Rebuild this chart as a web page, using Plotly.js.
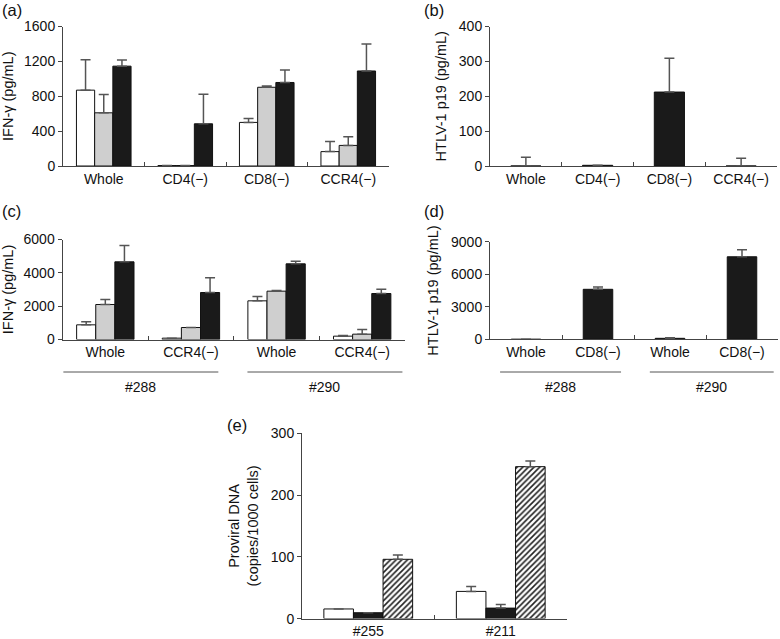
<!DOCTYPE html>
<html>
<head>
<meta charset="utf-8">
<script src="https://cdn.plot.ly/plotly-3.0.1.min.js"></script>
<style>html,body{margin:0;padding:0;background:#fff;}#chart{width:780px;height:639px;}</style>
</head>
<body>
<div id="chart"></div>
<script>
// ---------- data ----------
// Panel (a)
var aCategories = ["Whole", "CD4(\u2212)", "CD8(\u2212)", "CCR4(\u2212)"];
var aWhite = [870, 5, 500, 165];
var aWhiteErr = [350, 0, 45, 115];
var aGray = [610, 5, 903, 236];
var aGrayErr = [210, 0, 15, 100];
var aBlack = [1145, 484, 958, 1090];
var aBlackErr = [70, 340, 143, 310];

// Panel (b)
var bCategories = ["Whole", "CD4(\u2212)", "CD8(\u2212)", "CCR4(\u2212)"];
var bBlack = [0, 2, 212, 0];
var bBlackErr = [25, 0, 97, 22];

// Panel (c)  (zero-width space keeps repeated labels distinct)
var cCategories = ["Whole", "CCR4(\u2212)", "Whole\u200b", "CCR4(\u2212)\u200b"];
var cWhite = [880, 80, 2320, 200];
var cWhiteErr = [180, 0, 260, 40];
var cGray = [2100, 720, 2900, 320];
var cGrayErr = [300, 0, 40, 280];
var cBlack = [4660, 2820, 4540, 2760];
var cBlackErr = [980, 880, 160, 260];
var cGroups = ["#288", "#290"];

// Panel (d)
var dCategories = ["Whole", "CD8(\u2212)", "Whole\u200b", "CD8(\u2212)\u200b"];
var dBlack = [0, 4610, 90, 7610];
var dBlackErr = [0, 210, 60, 650];
var dGroups = ["#288", "#290"];

// Panel (e)
var eCategories = ["#255", "#211"];
var eWhite = [15.6, 44];
var eWhiteErr = [0, 8];
var eBlack = [9.5, 17];
var eBlackErr = [0, 6];
var eHatched = [96, 246];
var eHatchedErr = [7, 9];

// ---------- helpers ----------
var FONT = "Liberation Sans, Arial, Helvetica, sans-serif";
var ERRCOL = "#555";
function zeros(n){ var z=[]; for(var i=0;i<n;i++) z.push(0); return z; }
function bar(x, y, err, xa, ya, fill, extra){
  var t = {
    type: "bar", x: x, y: y, xaxis: xa, yaxis: ya,
    marker: {color: fill, line: {color: "#111", width: 1}},
    error_y: {type: "data", symmetric: false, array: err, arrayminus: zeros(err.length),
              color: ERRCOL, thickness: 1.5, width: 5},
    showlegend: false, hoverinfo: "x+y"
  };
  if (extra) for (var k in extra) t[k] = extra[k];
  return t;
}
var WHITE = "#ffffff", GRAY = "#cfcfcf", BLACK = "#1a1a1a";

var traces = [
  bar(aCategories, aWhite, aWhiteErr, "x", "y", WHITE),
  bar(aCategories, aGray, aGrayErr, "x", "y", GRAY),
  bar(aCategories, aBlack, aBlackErr, "x", "y", BLACK),

  bar(bCategories, bBlack, bBlackErr, "x2", "y2", BLACK, {width: 0.42}),

  bar(cCategories, cWhite, cWhiteErr, "x3", "y3", WHITE),
  bar(cCategories, cGray, cGrayErr, "x3", "y3", GRAY),
  bar(cCategories, cBlack, cBlackErr, "x3", "y3", BLACK),

  bar(dCategories, dBlack, dBlackErr, "x4", "y4", BLACK, {width: 0.41}),

  bar(eCategories, eWhite, eWhiteErr, "x5", "y5", WHITE),
  bar(eCategories, eBlack, eBlackErr, "x5", "y5", BLACK),
  bar(eCategories, eHatched, eHatchedErr, "x5", "y5", WHITE)
];
traces[10].marker.pattern = {shape: "/", fgcolor: "#222", bgcolor: "#ffffff", size: 4, solidity: 0.4, fillmode: "replace"};

function xax(domain, anchor){
  return {
    domain: domain, anchor: anchor, type: "category", tickson: "boundaries",
    ticks: "inside", ticklen: 4, tickwidth: 1, tickcolor: "#444",
    showline: true, linecolor: "#444", linewidth: 1,
    showgrid: false, zeroline: false, fixedrange: true,
    tickfont: {family: FONT, size: 14, color: "#111"}
  };
}
function yax(domain, anchor, range, dtick, title, standoff){
  return {
    domain: domain, anchor: anchor, range: range, dtick: dtick, tick0: 0,
    ticks: "outside", ticklen: 4, tickwidth: 1, tickcolor: "#444",
    showline: true, linecolor: "#444", linewidth: 1,
    showgrid: false, zeroline: false, fixedrange: true,
    tickfont: {family: FONT, size: 14, color: "#111"},
    title: {text: title, font: {family: FONT, size: 14.5, color: "#111"}, standoff: standoff}
  };
}

function py(px){ return 1 - px / 639; }
function pxx(px){ return px / 780; }

var layout = {
  width: 780, height: 639,
  margin: {l: 0, r: 0, t: 0, b: 0},
  paper_bgcolor: "#fff", plot_bgcolor: "rgba(0,0,0,0)",
  barmode: "group", bargap: 0.33, bargroupgap: 0,
  font: {family: FONT, size: 14, color: "#111"},
  xaxis:  xax([pxx(63), pxx(389)], "y"),
  yaxis:  yax([py(166), py(26.5)], "x", [0, 1600], 400, "IFN-\u03b3 (pg/mL)", 10),
  xaxis2: xax([pxx(490), pxx(777)], "y2"),
  yaxis2: yax([py(166), py(26.5)], "x2", [0, 400], 100, "HTLV-1 p19 (pg/mL)", 8),
  xaxis3: xax([pxx(62.5), pxx(405)], "y3"),
  yaxis3: yax([py(339.5), py(239.5)], "x3", [0, 6000], 2000, "IFN-\u03b3 (pg/mL)", 10),
  xaxis4: xax([pxx(490), pxx(778)], "y4"),
  yaxis4: yax([py(339.3), py(241.7)], "x4", [0, 9000], 3000, "HTLV-1 p19 (pg/mL)", 8),
  xaxis5: xax([pxx(302), pxx(567)], "y5"),
  yaxis5: yax([py(618.6), py(433.3)], "x5", [0, 300], 100, "Proviral DNA<br>(copies/1000 cells)", 8),
  shapes: [
    {type: "line", xref: "x3", yref: "paper", x0: -0.49, x1: 1.32, y0: py(372), y1: py(372), line: {color: "#555", width: 1}},
    {type: "line", xref: "x3", yref: "paper", x0: 1.66, x1: 3.47, y0: py(372), y1: py(372), line: {color: "#555", width: 1}},
    {type: "line", xref: "x4", yref: "paper", x0: -0.36, x1: 1.32, y0: py(372), y1: py(372), line: {color: "#555", width: 1}},
    {type: "line", xref: "x4", yref: "paper", x0: 1.72, x1: 3.44, y0: py(372), y1: py(372), line: {color: "#555", width: 1}}
  ],
  annotations: [
    {text: "(a)", xref: "paper", yref: "paper", x: pxx(0), y: py(10), xanchor: "left", yanchor: "middle", showarrow: false, font: {family: FONT, size: 16.5}},
    {text: "(b)", xref: "paper", yref: "paper", x: pxx(422), y: py(10), xanchor: "left", yanchor: "middle", showarrow: false, font: {family: FONT, size: 16.5}},
    {text: "(c)", xref: "paper", yref: "paper", x: pxx(0), y: py(211), xanchor: "left", yanchor: "middle", showarrow: false, font: {family: FONT, size: 16.5}},
    {text: "(d)", xref: "paper", yref: "paper", x: pxx(422), y: py(211), xanchor: "left", yanchor: "middle", showarrow: false, font: {family: FONT, size: 16.5}},
    {text: "(e)", xref: "paper", yref: "paper", x: pxx(225), y: py(425), xanchor: "left", yanchor: "middle", showarrow: false, font: {family: FONT, size: 16.5}},
    {text: cGroups[0], xref: "x3", yref: "paper", x: 0.41, y: py(387), yanchor: "middle", showarrow: false, font: {family: FONT, size: 14}},
    {text: cGroups[1], xref: "x3", yref: "paper", x: 2.56, y: py(387), yanchor: "middle", showarrow: false, font: {family: FONT, size: 14}},
    {text: dGroups[0], xref: "x4", yref: "paper", x: 0.48, y: py(387), yanchor: "middle", showarrow: false, font: {family: FONT, size: 14}},
    {text: dGroups[1], xref: "x4", yref: "paper", x: 2.58, y: py(387), yanchor: "middle", showarrow: false, font: {family: FONT, size: 14}}
  ]
};

Plotly.newPlot("chart", traces, layout, {staticPlot: true, displayModeBar: false});
</script>
</body>
</html>
